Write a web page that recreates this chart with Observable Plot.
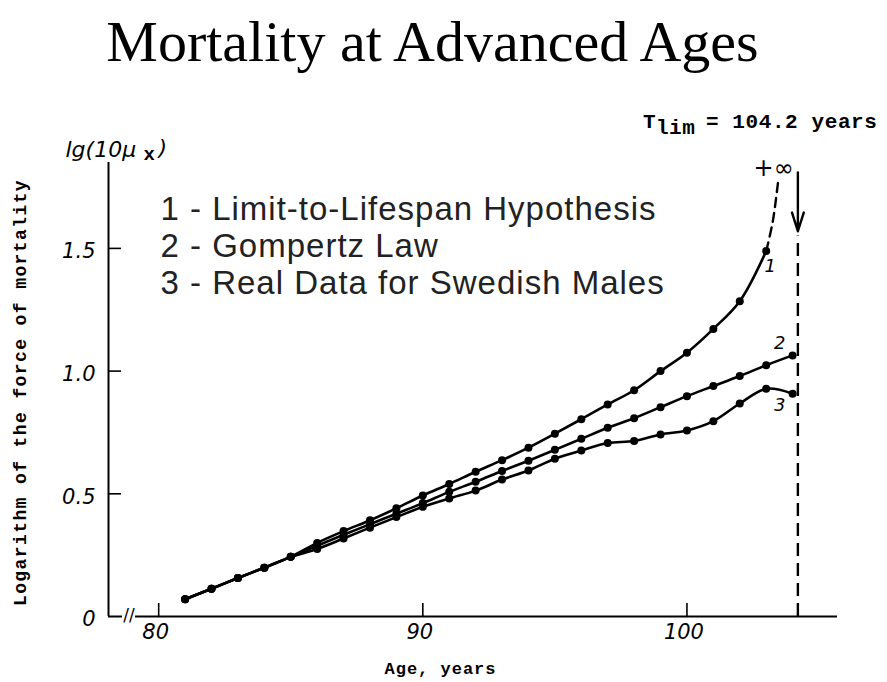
<!DOCTYPE html>
<html>
<head>
<meta charset="utf-8">
<script src="https://cdn.jsdelivr.net/npm/d3@7"></script>
<script src="https://cdn.jsdelivr.net/npm/@observablehq/plot@0.6"></script>
<style>
  body { margin: 0; background: #fff; }
  #title {
    height: 90px; width: 887px; box-sizing: border-box; padding-top: 13px;
    font-family: "Liberation Serif", "Times New Roman", serif; font-size: 58px; line-height: 58px;
    text-align: center; position: relative; left: -11px; color: #000; white-space: nowrap;
  }
  g[aria-description="legend"] text { letter-spacing: 1px; }
  g[aria-description="ylabel"] text { letter-spacing: 1.4px; }
  g[aria-description="xlabel"] text { letter-spacing: 1px; }
  g[aria-description="tlim"] text { letter-spacing: 0.6px; }
</style>
</head>
<body>
<div id="title">Mortality at Advanced Ages</div>
<div id="chart"></div>
<script>
// ---- data ----
const ages = [81, 82, 83, 84, 85, 86, 87, 88, 89, 90, 91, 92, 93, 94, 95, 96, 97, 98, 99, 100, 101, 102, 103, 104];
// 1 - Limit-to-Lifespan Hypothesis (81..103)
const limitHypothesis = [0.070, 0.113, 0.157, 0.199, 0.243, 0.300, 0.348, 0.392, 0.441, 0.493, 0.540, 0.590, 0.637, 0.688, 0.745, 0.804, 0.864, 0.922, 1.000, 1.075, 1.172, 1.285, 1.489];
// dashed continuation of curve 1 towards +infinity
const limitDashAges = [103, 103.25, 103.47];
const limitDashValues = [1.489, 1.61, 1.79];
// 2 - Gompertz Law (81..104)
const gompertz = [0.070, 0.113, 0.157, 0.199, 0.243, 0.288, 0.333, 0.376, 0.419, 0.462, 0.508, 0.549, 0.593, 0.635, 0.679, 0.724, 0.769, 0.808, 0.853, 0.898, 0.939, 0.980, 1.024, 1.064];
// 3 - Real Data for Swedish Males (81..104)
const swedishMales = [0.070, 0.113, 0.157, 0.199, 0.243, 0.275, 0.318, 0.362, 0.405, 0.447, 0.481, 0.513, 0.558, 0.595, 0.643, 0.676, 0.707, 0.715, 0.742, 0.758, 0.796, 0.868, 0.928, 0.908];
const tLim = 104.2;
const xTicks = [80, 90, 100];
const yTicks = [0, 0.5, 1.0, 1.5];
const yTickLabels = ["0", "0.5", "1.0", "1.5"];
const legendLines = ["1 - Limit-to-Lifespan Hypothesis", "2 - Gompertz Law", "3 - Real Data for Swedish Males"];
const curveNames = ["1", "2", "3"];
const yAxisTitle = "Logarithm of the force of mortality";
const xAxisTitle = "Age, years";

// ---- layout ----
const xMin = 78.1, xMax = 105.7, yMax = 1.85;
const W = 887, H = 592, mL = 108, mR = 50, mT = 72, mB = 66;
const kx = (W - mL - mR) / (xMax - xMin);   // px per year
const ky = (H - mT - mB) / yMax;            // px per unit
const tickLen = 13;

const series = [limitHypothesis, gompertz, swedishMales];
const rows = series.flatMap((vals, s) => vals.map((v, i) => ({age: ages[i], v, s: curveNames[s]})));
const dashRows = limitDashAges.map((a, i) => ({age: a, v: limitDashValues[i]}));
const lastPoints = series.map((vals, s) => ({age: ages[vals.length - 1], v: vals[vals.length - 1], name: curveNames[s]}));

const ink = "#000";
const tickFont = "DejaVu Sans, sans-serif";
const mono = "Liberation Mono, DejaVu Sans Mono, monospace";

const breakLeft = xMin + 14 / kx, breakRight = xMin + 27 / kx;

const plot = Plot.plot({
  width: W, height: H,
  marginLeft: mL, marginRight: mR, marginTop: mT, marginBottom: mB,
  style: {background: "#fff", color: ink},
  x: {domain: [xMin, xMax], label: null},
  y: {domain: [0, yMax], label: null},
  marks: [
    // axes lines
    Plot.ruleX([xMin], {y1: 0, y2: yMax, stroke: ink, strokeWidth: 2}),
    Plot.ruleY([0], {x1: xMin, x2: breakLeft, stroke: ink, strokeWidth: 2}),
    Plot.ruleY([0], {x1: breakRight, x2: xMax, stroke: ink, strokeWidth: 2}),
    Plot.text(["//"], {x: (breakLeft + breakRight) / 2, y: 0, text: d => d, fontSize: 17, fontFamily: tickFont, fill: ink, lineAnchor: "middle", dy: -1}),
    // inward ticks
    Plot.ruleX(xTicks, {y1: 0, y2: tickLen / ky, stroke: ink, strokeWidth: 1.6}),
    Plot.ruleY(yTicks.slice(1), {x1: xMin, x2: xMin + tickLen / kx, stroke: ink, strokeWidth: 1.6}),
    Plot.axisX({ticks: xTicks, label: null, tickSize: 0, tickPadding: 8, dx: -3, fontSize: 21, fontStyle: "italic", fontFamily: tickFont, tickFormat: d => String(d)}),
    Plot.axisY({ticks: yTicks, label: null, tickSize: 0, tickPadding: 13, dy: 3, fontSize: 21, fontStyle: "italic", fontFamily: tickFont, tickFormat: d => yTickLabels[yTicks.indexOf(d)]}),
    // axis titles
    Plot.text([yAxisTitle], {frameAnchor: "left", rotate: -90, textAnchor: "middle", lineAnchor: "middle", dx: 20 - mL, dy: 3, text: d => d, fontFamily: mono, fontWeight: "bold", fontSize: 18, fill: ink, ariaDescription: "ylabel"}),
    Plot.text([xAxisTitle], {frameAnchor: "bottom", textAnchor: "middle", lineAnchor: "middle", dx: 440 - (mL + W - mR) / 2, dy: 52, text: d => d, fontFamily: mono, fontWeight: "bold", fontSize: 17, fill: ink, ariaDescription: "xlabel"}),
    // lg(10 mu x)
    Plot.text(["lg(10μ"], {x: xMin - 43 / kx, y: yMax + 6 / ky, text: d => d, textAnchor: "start", lineAnchor: "bottom", fontFamily: tickFont, fontStyle: "italic", fontSize: 22, fill: ink}),
    Plot.text(["x"], {x: xMin + 35 / kx, y: yMax + 3 / ky, text: d => d, textAnchor: "start", lineAnchor: "bottom", fontFamily: mono, fontWeight: "bold", fontSize: 19, fill: ink}),
    Plot.text([")"], {x: xMin + 50 / kx, y: yMax + 8 / ky, text: d => d, textAnchor: "start", lineAnchor: "bottom", fontFamily: tickFont, fontStyle: "italic", fontSize: 22, fill: ink}),
    // legend
    Plot.text(legendLines, {x: xMin + 52 / kx, y: (d, i) => yMax - (57 + 37 * i) / ky, text: d => d, textAnchor: "start", lineAnchor: "bottom", fontFamily: "Liberation Sans, Arial, sans-serif", fontSize: 33, fill: "#222", ariaDescription: "legend"}),
    // T_lim line and arrow
    Plot.ruleX([tLim], {y1: 0, y2: 1.55, stroke: ink, strokeWidth: 2.4, strokeDasharray: "13,7"}),
    Plot.arrow([tLim], {x1: d => d, x2: d => d, y1: yMax - 10 / ky, y2: 1.57, stroke: ink, strokeWidth: 2.4, headLength: 18, headAngle: 35}),
    Plot.text(["T"], {x: tLim - 155 / kx, y: yMax + 35 / ky, text: d => d, textAnchor: "start", lineAnchor: "bottom", fontFamily: mono, fontWeight: "bold", fontSize: 21, fill: ink, ariaDescription: "tlim"}),
    Plot.text(["lim"], {x: tLim - 142 / kx, y: yMax + 29 / ky, text: d => d, textAnchor: "start", lineAnchor: "bottom", fontFamily: mono, fontWeight: "bold", fontSize: 21, fill: ink, ariaDescription: "tlim"}),
    Plot.text([`= ${tLim} years`], {x: tLim - 92 / kx, y: yMax + 35 / ky, text: d => d, textAnchor: "start", lineAnchor: "bottom", fontFamily: mono, fontWeight: "bold", fontSize: 21, fill: ink, ariaDescription: "tlim"}),
    // curves
    Plot.line(rows, {x: "age", y: "v", z: "s", curve: "catmull-rom", stroke: ink, strokeWidth: 2.6}),
    Plot.line(dashRows, {x: "age", y: "v", curve: "catmull-rom", stroke: ink, strokeWidth: 2.4, strokeDasharray: "9,6"}),
    Plot.dot(rows, {x: "age", y: "v", r: 4, fill: ink}),
    Plot.text(["+∞"], {x: limitDashAges[limitDashAges.length - 1], y: limitDashValues[limitDashValues.length - 1], text: d => d, dx: -5, dy: -9, lineAnchor: "middle", fontFamily: tickFont, fontSize: 24, fill: ink}),
    // curve numbers
    Plot.text([lastPoints[0]], {x: "age", y: "v", text: "name", dx: 4, dy: 15, fontFamily: tickFont, fontStyle: "italic", fontSize: 18, fill: ink}),
    Plot.text([lastPoints[1]], {x: "age", y: "v", text: "name", dx: -13, dy: -12, fontFamily: tickFont, fontStyle: "italic", fontSize: 18, fill: ink}),
    Plot.text([lastPoints[2]], {x: "age", y: "v", text: "name", dx: -13, dy: 12, fontFamily: tickFont, fontStyle: "italic", fontSize: 18, fill: ink})
  ]
});
document.getElementById("chart").appendChild(plot);
</script>
</body>
</html>
